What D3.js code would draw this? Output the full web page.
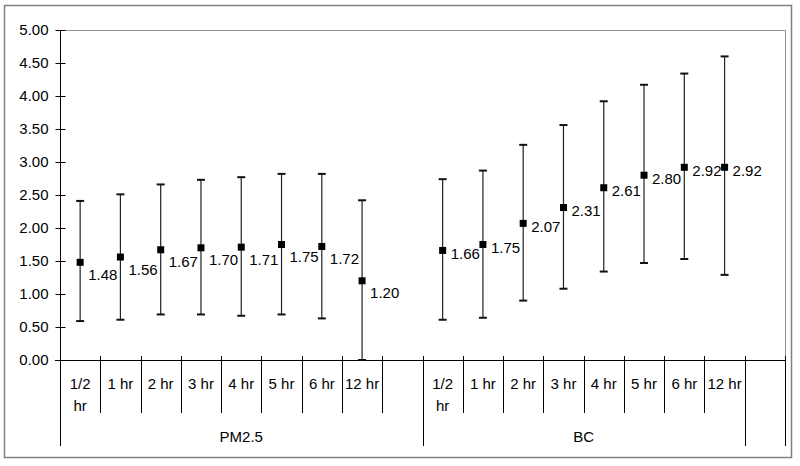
<!DOCTYPE html>
<html lang="en">
<head>
<meta charset="UTF-8">
<title>PM2.5 and BC error bars</title>
<script src="https://d3js.org/d3.v7.min.js"></script>
<style>
    body { margin: 0; background: #fff; font-family: "Liberation Sans", Arial, sans-serif; }
    svg { display: block; }
    .lbl { font-size: 15px; fill: #000; }
</style>
</head>
<body>
<svg width="800" height="466"></svg>
<script>
// data
var groups = ["PM2.5", "BC"];
var periods = ["1/2 hr", "1 hr", "2 hr", "3 hr", "4 hr", "5 hr", "6 hr", "12 hr"];
var pmMean = [1.48, 1.56, 1.67, 1.70, 1.71, 1.75, 1.72, 1.20];
var pmLow  = [0.59, 0.61, 0.69, 0.69, 0.67, 0.69, 0.63, 0.00];
var pmHigh = [2.41, 2.51, 2.66, 2.73, 2.77, 2.82, 2.82, 2.42];
var bcMean = [1.66, 1.75, 2.07, 2.31, 2.61, 2.80, 2.92, 2.92];
var bcLow  = [0.61, 0.64, 0.90, 1.08, 1.34, 1.47, 1.53, 1.29];
var bcHigh = [2.74, 2.87, 3.26, 3.56, 3.92, 4.17, 4.34, 4.60];
var yTicks = [0, 0.5, 1, 1.5, 2, 2.5, 3, 3.5, 4, 4.5, 5];

var svg = d3.select("svg");
var plotL = 60, plotR = 785, plotT = 30, plotB = 360, catBottom = 413, grpBottom = 446;

// outer frame
svg.append("rect").attr("x", 4.5).attr("y", 5.5).attr("width", 787).attr("height", 452)
    .attr("fill", "#fff").attr("stroke", "#808080").attr("stroke-width", 1.5);

// category keys: each group gets its periods plus one empty slot
var keys = [];
groups.forEach(function(g) {
    periods.forEach(function(p) { keys.push(g + "|" + p); });
    keys.push(g + "|");
});

var x = d3.scaleBand().domain(keys).range([plotL, plotR]).padding(0);
var y = d3.scaleLinear().domain([0, 5]).range([plotB, plotT]);
var bw = x.bandwidth();

// plot area border (grey)
svg.append("path")
    .attr("d", "M" + plotL + "," + (plotT + 0.5) + "H" + (plotR + 0.5) + "V" + plotB)
    .attr("fill", "none").attr("stroke", "#909090").attr("stroke-width", 1);

// y axis
var yAxis = d3.axisLeft(y).tickValues(yTicks).tickFormat(d3.format(".2f"))
    .tickSizeInner(5).tickSizeOuter(0).tickPadding(7);
var ya = svg.append("g").attr("transform", "translate(" + (plotL + 0.5) + ",0)").call(yAxis);
ya.select(".domain").remove();
ya.selectAll(".tick line").attr("x1", -5).attr("x2", 5).attr("stroke", "#000");
ya.selectAll(".tick text")
    .style("font-family", "Liberation Sans, Arial, sans-serif")
    .style("font-size", "15px")
    .attr("fill", "#000");
svg.append("line").attr("x1", plotL + 0.5).attr("x2", plotL + 0.5).attr("y1", plotT).attr("y2", grpBottom)
    .attr("stroke", "#000");

// x axis line
svg.append("line").attr("x1", plotL - 5).attr("x2", plotR + 0.5).attr("y1", plotB + 0.5).attr("y2", plotB + 0.5)
    .attr("stroke", "#000");

// category dividers
var bounds = keys.map(function(k) { return x(k); }).concat([plotR]);
var groupEdges = [x(keys[0]), x("BC|" + periods[0]), x("BC|"), plotR];
svg.selectAll(".div").data(bounds).enter().append("line")
    .attr("x1", function(d) { return Math.round(d) + 0.5; })
    .attr("x2", function(d) { return Math.round(d) + 0.5; })
    .attr("y1", plotB - 4)
    .attr("y2", function(d) {
        return groupEdges.some(function(g) { return Math.abs(g - d) < 0.5; }) ? grpBottom : catBottom;
    })
    .attr("stroke", "#000");

// category labels, wrapped when wider than the band
svg.selectAll(".cat").data(keys.filter(function(k) { return k.split("|")[1] !== ""; }))
    .enter().append("text")
    .attr("class", "lbl")
    .attr("text-anchor", "middle")
    .attr("y", 389)
    .each(function(k) {
        var t = d3.select(this), label = k.split("|")[1], cx = x(k) + bw / 2;
        t.attr("x", cx).text(label);
        if (this.getComputedTextLength() > bw - 2) {
            var words = label.split(" ");
            t.text(null);
            words.forEach(function(w, i) {
                t.append("tspan").attr("x", cx).attr("dy", i === 0 ? 0 : 22).text(w);
            });
        }
    });

// group labels
var groupSpans = [[groupEdges[0], groupEdges[1]], [groupEdges[1], groupEdges[2]]];
svg.selectAll(".grp").data(groups).enter().append("text")
    .attr("class", "lbl")
    .attr("text-anchor", "middle")
    .attr("x", function(d, i) { return (groupSpans[i][0] + groupSpans[i][1]) / 2; })
    .attr("y", 442)
    .text(function(d) { return d; });

// series points
var series = [
    { g: "PM2.5", mean: pmMean, low: pmLow, high: pmHigh, dy: 12 },
    { g: "BC", mean: bcMean, low: bcLow, high: bcHigh, dy: 3 }
];
var pts = [];
series.forEach(function(s) {
    periods.forEach(function(p, i) {
        pts.push({ cx: x(s.g + "|" + p) + bw / 2, mean: s.mean[i], low: s.low[i], high: s.high[i], dy: s.dy });
    });
});

var pg = svg.append("g");
pg.selectAll(".bar").data(pts).enter().append("line")
    .attr("x1", function(d) { return d.cx; }).attr("x2", function(d) { return d.cx; })
    .attr("y1", function(d) { return y(d.high); }).attr("y2", function(d) { return y(d.low); })
    .attr("stroke", "#222").attr("stroke-width", 1.2);
pg.selectAll(".capT").data(pts).enter().append("line")
    .attr("x1", function(d) { return d.cx - 4; }).attr("x2", function(d) { return d.cx + 4; })
    .attr("y1", function(d) { return y(d.high); }).attr("y2", function(d) { return y(d.high); })
    .attr("stroke", "#111").attr("stroke-width", 2);
pg.selectAll(".capB").data(pts).enter().append("line")
    .attr("x1", function(d) { return d.cx - 4; }).attr("x2", function(d) { return d.cx + 4; })
    .attr("y1", function(d) { return y(d.low); }).attr("y2", function(d) { return y(d.low); })
    .attr("stroke", "#111").attr("stroke-width", 2);
pg.selectAll(".mk").data(pts).enter().append("rect")
    .attr("x", function(d) { return d.cx - 3.5; })
    .attr("y", function(d) { return y(d.mean) - 3.5; })
    .attr("width", 7).attr("height", 7).attr("fill", "#000");
pg.selectAll(".val").data(pts).enter().append("text")
    .attr("class", "lbl")
    .attr("x", function(d) { return d.cx + 8; })
    .attr("y", function(d) { return y(d.mean) + d.dy; })
    .attr("dominant-baseline", "central")
    .text(function(d) { return d.mean.toFixed(2); });
</script>
</body>
</html>
